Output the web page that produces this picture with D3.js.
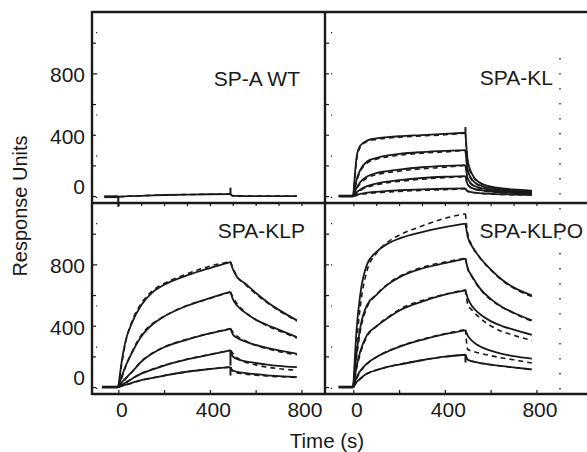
<!DOCTYPE html>
<html><head><meta charset="utf-8">
<script src="https://cdn.jsdelivr.net/npm/d3@7"></script>
<style>
body{margin:0;background:#fff}
text{font-family:"Liberation Sans",Arial,Helvetica,sans-serif;fill:#1a1a1a}
</style></head>
<body>
<script>
// ---------- data ----------
const panelNames = ["SP-A WT", "SPA-KL", "SPA-KLP", "SPA-KLPO"];
const assocT  = [0, 15, 30, 60, 100, 150, 200, 300, 400, 490];
const dissocT = [490, 500, 520, 550, 600, 650, 700, 780];
const yTickVals = [0, 200, 400, 600, 800, 1000];
const yLabelVals = [0, 400, 800];
const xTickVals = [0, 200, 400, 600, 800];
const xMinorVals = [0, 100, 200, 300, 400, 500, 600, 700, 800];
const xLabelVals = [0, 400, 800];
const baselineStart = [-62, -65, -72, -65];

// SP-A WT
const wtFitAssoc  = [[-4, -3, -2, 0, 2, 5, 7, 10, 12, 13]];
const wtFitDissoc = [[13, 2, 1, 0, 0, 0, 0, 0]];
const wtDatAssoc  = [[-4, -3, -2, 0, 2, 5, 7, 10, 12, 13]];
const wtDatDissoc = [[13, 2, 1, 0, 0, 0, 0, 0]];
const wtSpikes = [[0, -5, -70], [490, 13, 55]];

// SPA-KL
const klFitAssoc = [
  [0, 260, 328, 362, 376, 384, 390, 398, 406, 413],
  [0, 110, 170, 225, 248, 265, 275, 287, 295, 300],
  [0, 55, 90, 128, 150, 163, 173, 188, 197, 202],
  [0, 25, 42, 65, 82, 95, 104, 118, 126, 130],
  [0, 8, 14, 22, 28, 34, 38, 44, 48, 50]];
const klFitDissoc = [
  [413, 230, 140, 90, 62, 50, 43, 35],
  [300, 170, 105, 72, 52, 42, 36, 30],
  [202, 115, 75, 55, 40, 33, 28, 24],
  [130, 75, 52, 40, 30, 25, 21, 18],
  [50, 32, 25, 20, 15, 12, 10, 8]];
const klDatAssoc = [
  [0, 240, 318, 356, 370, 378, 384, 392, 400, 410],
  [0, 100, 160, 215, 240, 256, 266, 280, 288, 298],
  [0, 48, 82, 118, 140, 153, 163, 178, 188, 200],
  [0, 20, 36, 58, 74, 87, 96, 110, 120, 128],
  [0, 5, 10, 16, 22, 27, 31, 37, 42, 48]];
const klDatDissoc = [
  [410, 220, 135, 88, 60, 48, 42, 34],
  [298, 165, 100, 70, 50, 40, 35, 29],
  [200, 110, 72, 52, 38, 31, 27, 23],
  [128, 72, 50, 38, 28, 24, 20, 17],
  [48, 30, 24, 19, 14, 11, 9, 8]];
const klSpikes = [[490, 413, 450]];

// SPA-KLP
const klpFitAssoc = [
  [0, 170, 290, 420, 533, 619, 667, 728, 776, 815],
  [0, 70, 130, 225, 330, 410, 460, 530, 580, 620],
  [0, 30, 55, 100, 165, 220, 260, 310, 350, 380],
  [0, 15, 28, 55, 88, 115, 140, 180, 212, 239],
  [0, 8, 15, 28, 45, 60, 75, 100, 118, 130]];
const klpFitDissoc = [
  [815, 770, 715, 680, 615, 555, 505, 435],
  [620, 575, 530, 490, 440, 405, 375, 326],
  [380, 345, 320, 300, 275, 255, 240, 217],
  [239, 200, 182, 170, 157, 147, 139, 130],
  [130, 108, 100, 93, 84, 77, 72, 65]];
const klpDatAssoc = [
  [0, 150, 280, 430, 545, 628, 675, 738, 788, 818],
  [0, 60, 125, 230, 338, 415, 462, 532, 578, 620],
  [0, 25, 50, 100, 168, 222, 262, 312, 350, 382],
  [0, 12, 25, 55, 90, 118, 142, 182, 213, 240],
  [0, 6, 12, 26, 44, 60, 75, 100, 118, 130]];
const klpDatDissoc = [
  [818, 780, 720, 675, 608, 550, 500, 430],
  [620, 590, 540, 495, 440, 400, 368, 320],
  [382, 360, 330, 305, 272, 250, 232, 210],
  [240, 220, 190, 165, 145, 130, 120, 110],
  [130, 100, 92, 85, 77, 72, 68, 63]];
const klpSpikes = [[490, 239, 140], [490, 130, 75]];

// SPA-KLPO
const klpoFitAssoc = [
  [0, 390, 600, 800, 880, 935, 968, 1010, 1042, 1065],
  [0, 230, 385, 535, 600, 668, 715, 773, 808, 837],
  [0, 140, 230, 340, 395, 450, 498, 557, 602, 630],
  [0, 65, 105, 155, 195, 232, 262, 308, 345, 370],
  [0, 33, 55, 88, 110, 132, 147, 175, 198, 211]];
const klpoFitDissoc = [
  [1065, 980, 915, 850, 768, 700, 650, 598],
  [837, 775, 720, 650, 575, 522, 485, 435],
  [630, 580, 525, 480, 430, 398, 375, 341],
  [370, 335, 300, 268, 238, 216, 202, 185],
  [211, 178, 168, 158, 146, 137, 128, 115]];
const klpoDatAssoc = [
  [0, 300, 520, 760, 870, 945, 990, 1050, 1100, 1130],
  [0, 200, 360, 520, 600, 672, 720, 780, 815, 840],
  [0, 125, 215, 330, 395, 455, 505, 565, 605, 635],
  [0, 55, 98, 150, 195, 235, 265, 312, 348, 375],
  [0, 30, 52, 86, 110, 132, 148, 176, 198, 211]];
const klpoDatDissoc = [
  [1130, 1000, 920, 850, 765, 695, 645, 590],
  [840, 770, 715, 645, 570, 520, 482, 430],
  [635, 540, 500, 455, 400, 362, 338, 304],
  [375, 245, 235, 222, 205, 190, 178, 157],
  [211, 178, 168, 158, 146, 137, 128, 115]];
const klpoSpikes = [[490, 211, 160]];

// ---------- layout ----------
const W = 587, H = 452;
const xDom = [-115, 903], yDom = [-45, 1200];
const xs = [d3.scaleLinear().domain(xDom).range([92, 325]),
            d3.scaleLinear().domain(xDom).range([327, 560])];
const ys = [d3.scaleLinear().domain(yDom).range([203, 12]),
            d3.scaleLinear().domain(yDom).range([394, 203])];
const ink = "#1a1a1a";

const panels = [
  {name: panelNames[0], c: 0, r: 0, fa: wtFitAssoc, fd: wtFitDissoc, da: wtDatAssoc, dd: wtDatDissoc, sp: wtSpikes, base: baselineStart[0], bv: -4, lx: 300, ly: 86},
  {name: panelNames[1], c: 1, r: 0, fa: klFitAssoc, fd: klFitDissoc, da: klDatAssoc, dd: klDatDissoc, sp: klSpikes, base: baselineStart[1], bv: 0, lx: 553, ly: 85},
  {name: panelNames[2], c: 0, r: 1, fa: klpFitAssoc, fd: klpFitDissoc, da: klpDatAssoc, dd: klpDatDissoc, sp: klpSpikes, base: baselineStart[2], bv: 0, lx: 305, ly: 238},
  {name: panelNames[3], c: 1, r: 1, fa: klpoFitAssoc, fd: klpoFitDissoc, da: klpoDatAssoc, dd: klpoDatDissoc, sp: klpoSpikes, base: baselineStart[3], bv: 0, lx: 583, ly: 238}
];

const svg = d3.select("body").append("svg").attr("width", W).attr("height", H);

// curves
panels.forEach(p => {
  const x = xs[p.c], y = ys[p.r];
  const g = svg.append("g");
  const line = d3.line().x(d => x(d[0])).y(d => y(d[1])).curve(d3.curveMonotoneX);
  const lin = d3.line().x(d => x(d[0])).y(d => y(d[1]));
  const draw = (arrA, arrD, dashed) => {
    arrA.forEach((vals, i) => {
      const a = assocT.map((t, j) => [t, vals[j]]);
      const dd = dissocT.map((t, j) => [t, arrD[i][j]]);
      [a, dd].forEach(pts => {
        g.append("path").attr("d", line(pts)).attr("fill", "none")
          .attr("stroke", ink).attr("stroke-width", dashed ? 1.6 : 1.8)
          .attr("stroke-dasharray", dashed ? "5,4" : null);
      });
    });
  };
  draw(p.da, p.dd, true);
  draw(p.fa, p.fd, false);
  // baseline
  g.append("path").attr("d", lin([[p.base, p.bv], [0, p.bv]]))
    .attr("stroke", ink).attr("stroke-width", 2.8).attr("fill", "none");
  // injection spikes
  p.sp.forEach(s => {
    g.append("path").attr("d", lin([[s[0], s[1]], [s[0], s[2]]]))
      .attr("stroke", ink).attr("stroke-width", 2).attr("fill", "none");
  });
  // panel label
  svg.append("text").attr("x", p.lx).attr("y", p.ly).attr("text-anchor", "end")
    .attr("font-size", 21).text(p.name);
});

// faint dotted lines of the original figure
[[0, 0], [0, 1], [1, 0], [1, 1]].forEach(([c, r]) => {
  svg.append("line").attr("x1", xs[c](-95)).attr("x2", xs[c](-95))
    .attr("y1", ys[r](1200) + 20).attr("y2", ys[r](-45))
    .attr("stroke", ink).attr("stroke-width", 1.2).attr("stroke-dasharray", "1.2,40");
});
svg.append("line").attr("x1", xs[1](903)).attr("x2", xs[1](903))
  .attr("y1", 58).attr("y2", 394)
  .attr("stroke", ink).attr("stroke-width", 1.3).attr("stroke-dasharray", "1.4,13.6");

// ticks
const noDomain = g => g.select(".domain").remove();
[0, 1].forEach(r => {
  svg.append("g").attr("transform", "translate(92,0)")
    .call(d3.axisRight(ys[r]).tickValues(yTickVals).tickSize(4).tickFormat(""))
    .call(noDomain).selectAll("line").attr("stroke", ink).attr("stroke-width", 1.2);
  svg.append("g").attr("transform", "translate(325,0)")
    .call(d3.axisRight(ys[r]).tickValues(yTickVals).tickSize(4).tickFormat(""))
    .call(noDomain).selectAll("line").attr("stroke", ink).attr("stroke-width", 1.2);
  const lab = svg.append("g").attr("transform", "translate(92,0)")
    .call(d3.axisLeft(ys[r]).tickValues(yLabelVals).tickSize(0).tickPadding(7))
    .call(noDomain);
  lab.selectAll("text").attr("font-size", 21).attr("font-family", null).attr("fill", ink)
    .attr("dy", d => d === 0 ? "-0.12em" : "0.4em");
});
[0, 1].forEach(c => {
  svg.append("g").attr("transform", "translate(0,394)")
    .call(d3.axisTop(xs[c]).tickValues(xTickVals).tickSize(4).tickFormat(""))
    .call(noDomain).selectAll("line").attr("stroke", ink).attr("stroke-width", 1.2);
  svg.append("g").attr("transform", "translate(0,203)")
    .call(d3.axisBottom(xs[c]).tickValues(xMinorVals).tickSize(3).tickFormat(""))
    .call(noDomain).selectAll("line").attr("stroke", ink).attr("stroke-width", 1.2);
  const lab = svg.append("g").attr("transform", "translate(0,394)")
    .call(d3.axisBottom(xs[c]).tickValues(xLabelVals).tickSize(0).tickPadding(8))
    .call(noDomain);
  lab.selectAll("text").attr("font-size", 21).attr("font-family", null).attr("fill", ink).attr("dx", 3);
});

// frame
const frame = [[92, 12, 587, 12], [92, 203, 587, 203], [92, 394, 587, 394],
               [92, 11, 92, 395], [325, 11, 325, 395]];
frame.forEach(f => svg.append("line").attr("x1", f[0]).attr("y1", f[1]).attr("x2", f[2]).attr("y2", f[3])
  .attr("stroke", ink).attr("stroke-width", 2.4));

// axis titles
svg.append("text").attr("x", 327).attr("y", 448).attr("text-anchor", "middle")
  .attr("font-size", 20.5).text("Time (s)");
svg.append("text").attr("transform", "translate(27,206) rotate(-90)").attr("text-anchor", "middle")
  .attr("font-size", 20).text("Response Units");
</script>
</body></html>
